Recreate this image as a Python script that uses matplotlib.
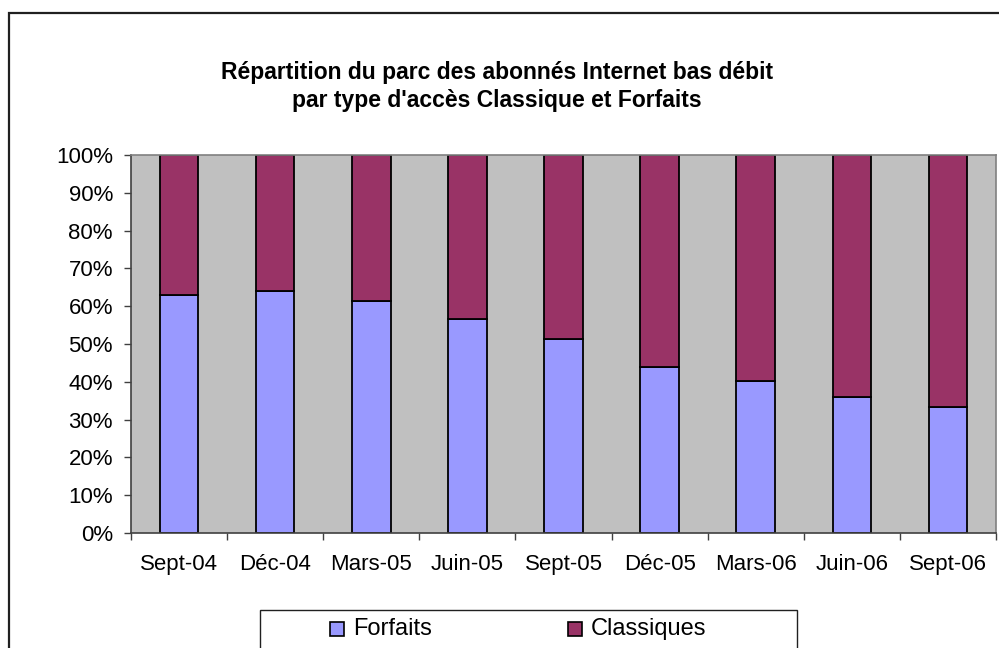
import matplotlib
matplotlib.use("Agg")
import matplotlib.pyplot as plt
from matplotlib.patches import Rectangle
from matplotlib.ticker import FixedLocator, NullFormatter

categories = ["Sept-04", "Déc-04", "Mars-05", "Juin-05", "Sept-05",
              "Déc-05", "Mars-06", "Juin-06", "Sept-06"]
forfaits = [63.0, 64.0, 61.4, 56.6, 51.2, 43.8, 40.3, 36.0, 33.3]
classiques = [100 - v for v in forfaits]
yticks = [0, 10, 20, 30, 40, 50, 60, 70, 80, 90, 100]
ytick_labels = [f"{v}%" for v in yticks]
series_names = ["Forfaits", "Classiques"]
series_colors = ["#9999FF", "#993366"]

plt.rcParams['font.family'] = ['Liberation Sans', 'DejaVu Sans']

W, H = 999, 648
fig = plt.figure(figsize=(W / 100, H / 100), dpi=100)

# outer chart border (extends beyond the right and bottom edges)
fig.patches.append(Rectangle((9 / W, -0.1), 1.2, (H - 13) / H + 0.1,
                             transform=fig.transFigure, fill=False,
                             edgecolor="#202020", linewidth=1.6))

ax = fig.add_axes([131 / W, (H - 533) / H, 865 / W, 378 / H])
ax.set_facecolor("#C0C0C0")
x = list(range(len(categories)))
ax.bar(x, forfaits, width=0.4, color=series_colors[0], edgecolor="black", linewidth=1.3)
ax.bar(x, classiques, width=0.4, bottom=forfaits, color=series_colors[1],
       edgecolor="black", linewidth=1.3)

ax.set_xlim(-0.5, len(categories) - 0.5)
ax.set_ylim(0, 100)
ax.set_yticks(yticks)
ax.set_yticklabels(ytick_labels, fontsize=16)
ax.set_xticks(x)
ax.set_xticklabels(categories, fontsize=16)
ax.tick_params(axis="x", which="major", length=0, pad=15)
ax.xaxis.set_minor_locator(FixedLocator([i - 0.5 for i in range(len(categories) + 1)]))
ax.xaxis.set_minor_formatter(NullFormatter())
ax.tick_params(axis="x", which="minor", length=5, width=1, color="#404040", direction="out")
ax.tick_params(axis="y", length=5, width=1, color="#404040", direction="out", pad=8)

for s in ["top", "right"]:
    ax.spines[s].set_color("#808080")
    ax.spines[s].set_linewidth(1.2)
for s in ["left", "bottom"]:
    ax.spines[s].set_color("#404040")
    ax.spines[s].set_linewidth(1.2)

fig.text(497 / W, 1 - 73 / H, "Répartition du parc des abonnés Internet bas débit",
         ha="center", va="center", fontsize=16.5, fontweight="bold")
fig.text(497 / W, 1 - 100 / H, "par type d'accès Classique et Forfaits",
         ha="center", va="center", fontsize=16.5, fontweight="bold")

# legend box (drawn manually; extends beyond the bottom edge)
fig.patches.append(Rectangle((260 / W, -0.1), (797 - 260) / W, (H - 610) / H + 0.1,
                             transform=fig.transFigure, fill=True, facecolor="white",
                             edgecolor="#202020", linewidth=1.0))
legend_marker_x = [330, 568]
for mx, name, col in zip(legend_marker_x, series_names, series_colors):
    fig.patches.append(Rectangle((mx / W, 1 - 636 / H), 14 / W, 14 / H,
                                 transform=fig.transFigure, facecolor=col,
                                 edgecolor="black", linewidth=1.2))
    fig.text((mx + 23) / W, 1 - 629 / H, name, ha="left", va="center", fontsize=17)

fig.savefig("out.png", dpi=100)
